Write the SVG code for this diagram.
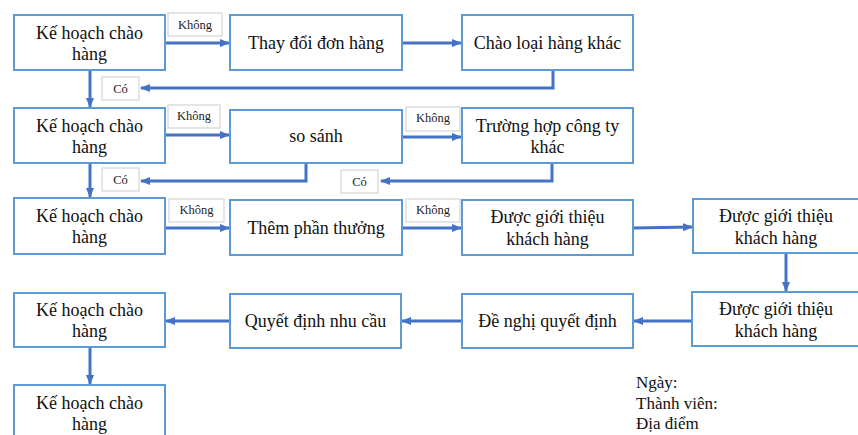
<svg xmlns="http://www.w3.org/2000/svg" width="858" height="435" viewBox="0 0 858 435">
<defs>
<style>
.box{fill:#fff;stroke:#5b9bd5;stroke-width:2}
.lbl{fill:#fff;stroke:#d4d4d4;stroke-width:1.2}
.t{font-family:"Liberation Serif","Times New Roman",serif;font-size:18px;fill:#111;text-anchor:middle}
.s{font-family:"Liberation Serif","Times New Roman",serif;font-size:12.5px;fill:#222;text-anchor:middle}
.n{font-family:"Liberation Serif","Times New Roman",serif;font-size:17px;fill:#111}
.c{fill:none;stroke:#4472c4;stroke-width:3;marker-end:url(#ah)}
</style>
<marker id="ah" markerUnits="userSpaceOnUse" markerWidth="10" markerHeight="10" viewBox="0 0 10 10" refX="9" refY="5" orient="auto">
<path d="M0,1 L10,5 L0,9 Z" fill="#4472c4"/>
</marker>
</defs>
<rect width="858" height="435" fill="#fff"/>
<g id="connectors">
<path class="c" d="M165,43 H229"/>
<path class="c" d="M402,43 H461"/>
<path class="c" d="M553,70 V88 H141"/>
<path class="c" d="M90,70 V107"/>
<path class="c" d="M165,135 H229"/>
<path class="c" d="M402,137 H461"/>
<path class="c" d="M306,163 V181 H141"/>
<path class="c" d="M552,163 V181 H381"/>
<path class="c" d="M90,163 V197"/>
<path class="c" d="M165,228 H229"/>
<path class="c" d="M402,228 H461"/>
<path class="c" d="M633,228 L692,227"/>
<path class="c" d="M786,253 V291"/>
<path class="c" d="M692,321 H634"/>
<path class="c" d="M462,321 H402"/>
<path class="c" d="M230,321 H166"/>
<path class="c" d="M90,347 V384"/>
</g>
<g id="labels">
<g id="lbl-khong1"><rect class="lbl" x="168" y="13" width="54" height="23"/><text class="s" x="195" y="29">Không</text></g>
<g id="lbl-co1"><rect class="lbl" x="102" y="77" width="37" height="23"/><text class="s" x="120.5" y="93">Có</text></g>
<g id="lbl-khong2"><rect class="lbl" x="168" y="105" width="52" height="23"/><text class="s" x="194" y="120">Không</text></g>
<g id="lbl-khong3"><rect class="lbl" x="406" y="107" width="54" height="24"/><text class="s" x="433" y="122">Không</text></g>
<g id="lbl-co2"><rect class="lbl" x="102" y="168" width="37" height="23"/><text class="s" x="120.5" y="184">Có</text></g>
<g id="lbl-co3"><rect class="lbl" x="341" y="170" width="37" height="23"/><text class="s" x="359.5" y="186">Có</text></g>
<g id="lbl-khong4"><rect class="lbl" x="169" y="199" width="55" height="23"/><text class="s" x="196.5" y="214">Không</text></g>
<g id="lbl-khong5"><rect class="lbl" x="406" y="199" width="54" height="23"/><text class="s" x="433" y="214">Không</text></g>
</g>
<g id="n1"><rect class="box" x="14" y="15" width="151" height="55"/><text class="t" x="89.5" y="39">Kế hoạch chào</text><text class="t" x="89.5" y="60">hàng</text></g>
<g id="n2"><rect class="box" x="230" y="15" width="172" height="55"/><text class="t" x="316" y="49">Thay đổi đơn hàng</text></g>
<g id="n3"><rect class="box" x="462" y="15" width="171" height="55"/><text class="t" x="547.5" y="49">Chào loại hàng khác</text></g>
<g id="n4"><rect class="box" x="14" y="108" width="151" height="55"/><text class="t" x="89.5" y="132">Kế hoạch chào</text><text class="t" x="89.5" y="153">hàng</text></g>
<g id="n5"><rect class="box" x="230" y="110" width="172" height="53"/><text class="t" x="316" y="142">so sánh</text></g>
<g id="n6"><rect class="box" x="462" y="108" width="171" height="55"/><text class="t" x="547.5" y="132">Trường hợp công ty</text><text class="t" x="547.5" y="153">khác</text></g>
<g id="n7"><rect class="box" x="14" y="198" width="151" height="56"/><text class="t" x="89.5" y="222">Kế hoạch chào</text><text class="t" x="89.5" y="243">hàng</text></g>
<g id="n8"><rect class="box" x="230" y="200" width="172" height="55"/><text class="t" x="316" y="234">Thêm phần thưởng</text></g>
<g id="n9"><rect class="box" x="462" y="200" width="171" height="55"/><text class="t" x="547.5" y="223">Được giới thiệu</text><text class="t" x="547.5" y="245">khách hàng</text></g>
<g id="n10"><rect class="box" x="693" y="199" width="175" height="54"/><text class="t" x="776" y="222">Được giới thiệu</text><text class="t" x="776" y="244">khách hàng</text></g>
<g id="n11"><rect class="box" x="692" y="292" width="176" height="54"/><text class="t" x="776" y="315">Được giới thiệu</text><text class="t" x="776" y="337">khách hàng</text></g>
<g id="n12"><rect class="box" x="462" y="294" width="171" height="54"/><text class="t" x="547.5" y="327">Đề nghị quyết định</text></g>
<g id="n13"><rect class="box" x="230" y="294" width="171" height="54"/><text class="t" x="315.5" y="327">Quyết định nhu cầu</text></g>
<g id="n14"><rect class="box" x="14" y="293" width="151" height="54"/><text class="t" x="89.5" y="316">Kế hoạch chào</text><text class="t" x="89.5" y="337">hàng</text></g>
<g id="n15"><rect class="box" x="14" y="385" width="151" height="60"/><text class="t" x="89.5" y="409">Kế hoạch chào</text><text class="t" x="89.5" y="430">hàng</text></g>
<g id="notes"><text class="n" x="636" y="388">Ngày:</text><text class="n" x="636" y="409">Thành viên:</text><text class="n" x="636" y="429">Địa điểm</text></g>
</svg>
